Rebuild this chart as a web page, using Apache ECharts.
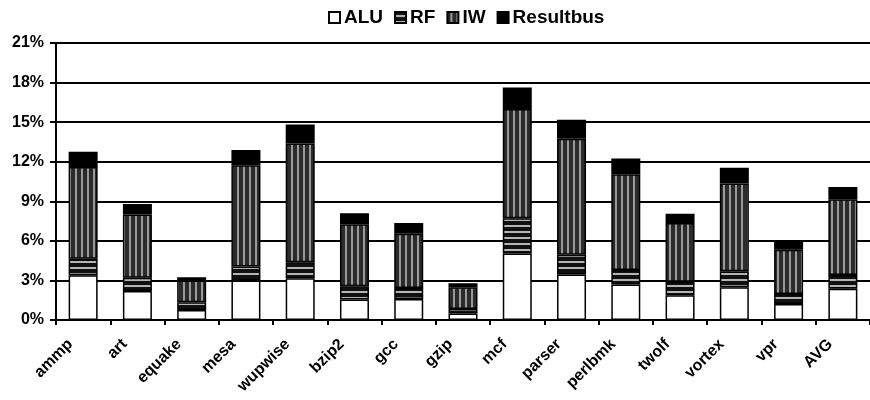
<!DOCTYPE html>
<html>
<head>
<meta charset="utf-8">
<script src="https://cdn.jsdelivr.net/npm/echarts@6/dist/echarts.min.js"></script>
<style>
html,body{margin:0;padding:0;background:#fff;}
#chart{width:870px;height:400px;}
</style>
</head>
<body>
<div id="chart"></div>
<script>
var categories = ['ammp','art','equake','mesa','wupwise','bzip2','gcc','gzip','mcf','parser','perlbmk','twolf','vortex','vpr','AVG'];
var aluValues = [3.4, 2.2, 0.76, 3.0, 3.17, 1.55, 1.6, 0.5, 5.05, 3.45, 2.7, 1.87, 2.48, 1.22, 2.36];
var rfValues = [1.25, 1.0, 0.58, 1.06, 1.21, 1.0, 0.83, 0.34, 2.67, 1.5, 1.1, 1.03, 1.22, 0.76, 1.06];
var iwValues = [6.95, 4.8, 1.66, 7.68, 9.0, 4.7, 4.11, 1.64, 8.28, 8.8, 7.25, 4.45, 6.65, 3.35, 5.74];
var resultbusValues = [1.15, 0.8, 0.24, 1.14, 1.45, 0.84, 0.81, 0.31, 1.62, 1.43, 1.2, 0.71, 1.19, 0.63, 0.93];
var yTicks = [0, 3, 6, 9, 12, 15, 18, 21];

function makePattern(kind) {
  var c = document.createElement('canvas');
  c.width = 6; c.height = 6;
  var ctx = c.getContext('2d');
  if (kind === 'h') {
    ctx.fillStyle = '#111';
    ctx.fillRect(0, 0, 6, 6);
    ctx.fillStyle = '#b4b4b4';
    ctx.fillRect(0, 3, 6, 2);
  } else {
    ctx.fillStyle = '#2b2b2b';
    ctx.fillRect(0, 0, 6, 6);
    ctx.fillStyle = '#9a9a9a';
    ctx.fillRect(3, 0, 2, 6);
  }
  return {image: c, repeat: 'repeat'};
}

var font = '"Liberation Sans", Arial, sans-serif';
var chart = echarts.init(document.getElementById('chart'), null, {renderer: 'canvas'});
var border = {borderColor: '#000', borderWidth: 1.5};
function ser(name, data, color) {
  return {
    name: name, type: 'bar', stack: 'total', data: data, barWidth: 29,
    itemStyle: Object.assign({color: color}, border),
    emphasis: {disabled: true}
  };
}
chart.setOption({
  animation: false,
  backgroundColor: '#fff',
  legend: {
    top: 3, left: 323,
    itemWidth: 11, itemHeight: 11, itemGap: 11,
    icon: 'rect',
    textStyle: {fontFamily: font, fontWeight: 'bold', fontSize: 19, color: '#000', padding: [0, 0, 0, -1]},
    data: ['ALU', 'RF', 'IW', 'Resultbus']
  },
  grid: {left: 56, top: 43, bottom: 80, right: -13, containLabel: false},
  xAxis: {
    type: 'category', data: categories, boundaryGap: true,
    axisLine: {lineStyle: {color: '#000', width: 2}},
    axisTick: {show: true, length: 5, alignWithLabel: false, lineStyle: {color: '#000', width: 2}},
    axisLabel: {rotate: 45, interval: 0, margin: 9, padding: [0, 18, 0, 0], fontFamily: font, fontWeight: 'bold', fontSize: 16, color: '#000'}
  },
  yAxis: {
    type: 'value', min: yTicks[0], max: yTicks[yTicks.length - 1], interval: 3,
    axisLine: {show: true, lineStyle: {color: '#000', width: 2}},
    axisTick: {show: true, length: 6, lineStyle: {color: '#000', width: 2}},
    splitLine: {show: true, lineStyle: {color: '#000', width: 2}},
    axisLabel: {formatter: '{value}%', margin: 12, fontFamily: font, fontWeight: 'bold', fontSize: 16, color: '#000'}
  },
  series: [
    ser('ALU', aluValues, '#fff'),
    ser('RF', rfValues, makePattern('h')),
    ser('IW', iwValues, makePattern('v')),
    ser('Resultbus', resultbusValues, '#000')
  ]
});
</script>
</body>
</html>
